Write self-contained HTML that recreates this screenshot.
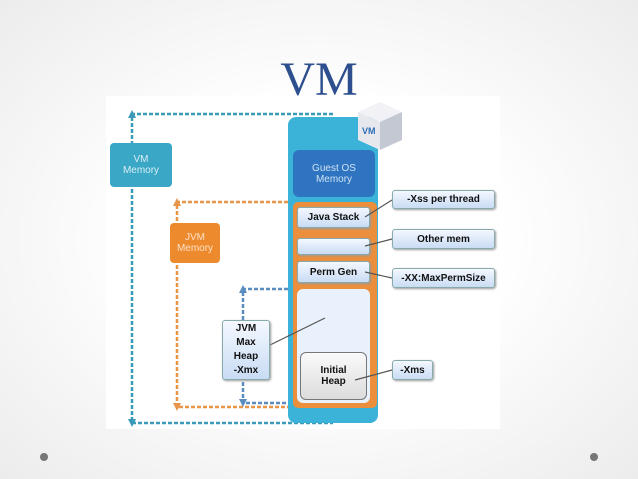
<!DOCTYPE html>
<html><head><style>
body{margin:0;width:638px;height:479px;overflow:hidden;background:radial-gradient(ellipse at center,#ffffff 40%,#ececec 100%);font-family:"Liberation Sans",sans-serif;position:relative}
.a{position:absolute;box-sizing:border-box}
.t{display:flex;align-items:center;justify-content:center;text-align:center;font-weight:bold;font-size:10px;color:#111}
.call{background:linear-gradient(#f4f8ff,#c9dcf4);border:1px solid #8aa;border-radius:3px;box-shadow:1px 1px 2px #999}
</style></head><body>
<div class="a" style="left:0;top:56px;width:638px;text-align:center;font-family:'Liberation Serif',serif;font-size:48px;color:#2e4f8e;line-height:48px">VM</div>
<div class="a" style="left:106px;top:96px;width:394px;height:333px;background:#fff"></div>
<svg class="a" style="left:0;top:0" width="638" height="479">
<g fill="none" stroke-width="2.5" stroke-dasharray="4 2">
<polyline points="333,114 132,114 132,423 333,423" stroke="#3a9ab8"/>
<polyline points="300,202 177,202 177,407 300,407" stroke="#e8954a"/>
<polyline points="300,289 243,289 243,403 300,403" stroke="#5a8cc0"/>
</g>
<polygon points="132,110 128,118 136,118" fill="#3a9ab8"/><polygon points="132,427 128,419 136,419" fill="#3a9ab8"/>
<polygon points="177,198 173,206 181,206" fill="#e8954a"/><polygon points="177,411 173,403 181,403" fill="#e8954a"/>
<polygon points="243,285 239,293 247,293" fill="#5a8cc0"/><polygon points="243,407 239,399 247,399" fill="#5a8cc0"/>
</svg>
<div class="a" style="left:288px;top:117px;width:90px;height:306px;background:#3bb3d8;border-radius:8px"></div>
<div class="a t" style="left:293px;top:150px;width:82px;height:47px;background:#2f74c0;border-radius:6px;color:#cfe3f5;font-weight:normal">Guest OS<br>Memory</div>
<div class="a" style="left:293px;top:202px;width:84px;height:206px;background:#ec8f3c;border-radius:5px"></div>
<div class="a t call" style="left:297px;top:207px;width:73px;height:21px">Java Stack</div>
<div class="a call" style="left:297px;top:238px;width:73px;height:17px"></div>
<div class="a t call" style="left:297px;top:261px;width:73px;height:22px">Perm Gen</div>
<div class="a" style="left:297px;top:289px;width:73px;height:114px;background:#e9f1fc;border-radius:6px"></div>
<div class="a t" style="left:300px;top:352px;width:67px;height:48px;background:linear-gradient(#fafafa,#dcdcdc);border:1px solid #777;border-radius:6px">Initial<br>Heap</div>
<svg class="a" style="left:350px;top:98px" width="58" height="58">
<polygon points="8,14 30,4 52,14 30,24" fill="#f2f2f6"/>
<polygon points="8,14 30,24 30,52 8,42" fill="#e6e8ee"/>
<polygon points="30,24 52,14 52,42 30,52" fill="#c4c8d2"/>
<text x="12" y="36" font-family="Liberation Sans" font-size="9" font-weight="bold" fill="#2c6fb7">VM</text>
</svg>
<svg class="a" style="left:0;top:0" width="638" height="479"><g stroke="#555" stroke-width="1.2" fill="none">
<line x1="392" y1="200" x2="365" y2="217"/><line x1="392" y1="239" x2="365" y2="246"/><line x1="392" y1="278" x2="365" y2="272"/><line x1="392" y1="370" x2="355" y2="380"/><line x1="270" y1="345" x2="325" y2="318"/></g></svg>
<div class="a t call" style="left:392px;top:190px;width:103px;height:19px">-Xss per thread</div>
<div class="a t call" style="left:392px;top:229px;width:103px;height:20px">Other mem</div>
<div class="a t call" style="left:392px;top:268px;width:103px;height:20px">-XX:MaxPermSize</div>
<div class="a t call" style="left:392px;top:360px;width:41px;height:20px">-Xms</div>
<div class="a t" style="left:110px;top:143px;width:62px;height:44px;background:#3aa7c6;border-radius:4px;color:#d8eef5;font-weight:normal">VM<br>Memory</div>
<div class="a t" style="left:170px;top:223px;width:50px;height:40px;background:#ee8a2e;border-radius:4px;color:#fbe1c6;font-weight:normal">JVM<br>Memory</div>
<div class="a t call" style="left:222px;top:320px;width:48px;height:60px;line-height:14px">JVM<br>Max<br>Heap<br>-Xmx</div>
<div class="a" style="left:40px;top:453px;width:8px;height:8px;border-radius:50%;background:#777"></div>
<div class="a" style="left:590px;top:453px;width:8px;height:8px;border-radius:50%;background:#777"></div>
</body></html>
